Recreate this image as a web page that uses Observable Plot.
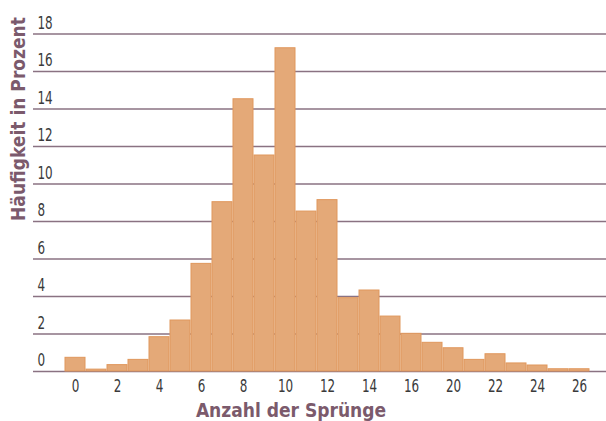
<!DOCTYPE html>
<html><head><meta charset="utf-8">
<script src="https://cdn.jsdelivr.net/npm/d3@7"></script>
<script src="https://cdn.jsdelivr.net/npm/@observablehq/plot@0.6"></script>
<style>
body{margin:0;background:#fff;}
svg{display:block;}
</style></head>
<body><div id="chart"></div>
<script>
// bar positions (in order) and their heights in percent
const bins = d3.range(25);
const percent = [0.73,0.10,0.34,0.62,1.83,2.72,5.74,9.03,14.52,11.52,17.24,8.53,9.14,3.91,4.32,2.93,2.01,1.53,1.24,0.62,0.92,0.43,0.32,0.12,0.12];
// tick labels shown under every second bar (as printed in the original)
const tickLabels = ["0","2","4","6","8","10","12","14","16","20","22","24","26"];
const yTicks = [0,2,4,6,8,10,12,14,16,18];

const data = bins.map((b,i)=>({bin:b, value:percent[i]}));
const tickPos = bins.filter(b=>b%2===0);

const chart = Plot.plot({
  width:606, height:421,
  marginLeft:33, marginRight:0, marginTop:33.5, marginBottom:50,
  style:{fontFamily:"'DejaVu Sans Condensed','Liberation Sans Narrow','DejaVu Sans',sans-serif", fontStretch:"condensed", fontSize:"18px", color:"#3a3a3a", background:"#fff"},
  x:{type:"band", domain:bins, paddingInner:0.06, paddingOuter:0.03, insetLeft:28, insetRight:14},
  y:{domain:[0,18]},
  marks:[
    Plot.ruleY(yTicks,{stroke:"#8a7282", strokeWidth:1.3}),
    Plot.barY(data,{x:"bin", y:"value", fill:"#e4a978", stroke:"#e0975c", strokeWidth:1}),
    Plot.axisY({ticks:yTicks, tickSize:0, tickPadding:0, textAnchor:"start", dx:4, dy:-11, label:null}),
    Plot.axisX({ticks:tickPos, tickFormat:(d)=>tickLabels[d/2], tickSize:0, tickPadding:8, label:null}),
  ]
});
const svg = d3.select(chart);
// narrow the tick numbers like the condensed face of the original
svg.selectAll("g[aria-label='y-axis tick label'] text, g[aria-label='x-axis tick label'] text")
  .each(function(){
    const t = d3.select(this);
    const tr = t.attr("transform") || "";
    t.attr("transform", tr + " scale(0.74,1)");
  });
svg.append("text").text("Anzahl der Sprünge")
  .attr("x",291).attr("y",417)
  .attr("text-anchor","middle")
  .attr("font-family","'DejaVu Sans',sans-serif").attr("font-weight","700").attr("font-size","19px")
  .attr("fill","#7b5a6c");
svg.append("text").text("Häufigkeit in Prozent")
  .attr("transform","translate(25,119) rotate(-90)")
  .attr("text-anchor","middle")
  .attr("font-family","'DejaVu Sans',sans-serif").attr("font-weight","700").attr("font-size","19px")
  .attr("fill","#7b5a6c");
document.getElementById("chart").append(chart);
</script>
</body></html>
